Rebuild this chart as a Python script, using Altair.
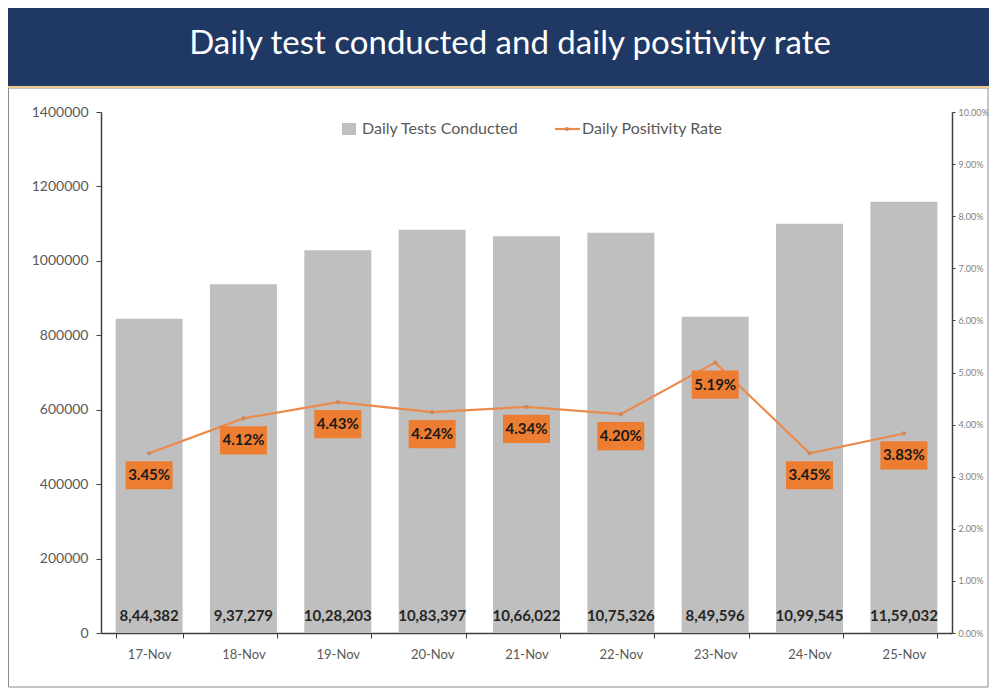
import altair as alt
import pandas as pd

dates = ["17-Nov", "18-Nov", "19-Nov", "20-Nov", "21-Nov", "22-Nov", "23-Nov", "24-Nov", "25-Nov"]
tests = [844382, 937279, 1028203, 1083397, 1066022, 1075326, 849596, 1099545, 1159032]
rates = [3.45, 4.12, 4.43, 4.24, 4.34, 4.20, 5.19, 3.45, 3.83]
y_ticks = [0, 200000, 400000, 600000, 800000, 1000000, 1200000, 1400000]
r_ticks = [0.00, 0.01, 0.02, 0.03, 0.04, 0.05, 0.06, 0.07, 0.08, 0.09, 0.10]
title_text = "Daily test conducted and daily positivity rate"
legend_names = ["Daily Tests Conducted", "Daily Positivity Rate"]


def indian(n):
    s = str(n)
    last3, rest = s[-3:], s[:-3]
    parts = []
    while len(rest) > 2:
        parts.insert(0, rest[-2:])
        rest = rest[:-2]
    if rest:
        parts.insert(0, rest)
    return ",".join(parts + [last3])


df = pd.DataFrame({
    "date": dates,
    "tests": tests,
    "rate": [r / 100 for r in rates],
    "tlabel": [indian(t) for t in tests],
    "rlabel": [f"{r:.2f}%" for r in rates],
})

W, H = 851, 521
FONT = "Lato"
GRAY = "#595959"

xenc = alt.X("date:N", sort=dates,
             scale=alt.Scale(paddingInner=0.29, paddingOuter=0.155),
             axis=alt.Axis(title=None, labelAngle=0, labelFontSize=13, labelColor=GRAY,
                           labelFont=FONT, labelPadding=10, tickBand="extent", tickSize=5,
                           tickColor="#404040", domainColor="#404040", domainWidth=1.5,
                           grid=False))

left_y = alt.Y("tests:Q", scale=alt.Scale(domain=[0, 1400000], nice=False),
               axis=alt.Axis(title=None, values=y_ticks, format="d", labelFontSize=14,
                             labelColor=GRAY, labelFont=FONT, tickSize=5, labelPadding=8,
                             tickColor="#404040", domainColor="#404040", domainWidth=1.5,
                             grid=False))

right_y = alt.Y("rate:Q", scale=alt.Scale(domain=[0, 0.10], nice=False),
                axis=alt.Axis(title=None, orient="right", values=r_ticks, format=".2%",
                              labelFontSize=9, labelColor="#7f7f7f", labelFont=FONT,
                              tickSize=3, labelPadding=3, tickColor="#404040",
                              domainColor="#404040", domainWidth=1.5, grid=False))

bars = alt.Chart().mark_bar(color="#BFBFBF")
bar_labels = alt.Chart().mark_text(font=FONT, fontSize=15, fontWeight="bold",
                                   color="#262626", dy=-17).encode(
    y=alt.datum(0), text="tlabel:N")
left = alt.layer(bars, bar_labels, data=df).encode(x=xenc, y=left_y)

line = alt.Chart().mark_line(color="#EC8A4C", strokeWidth=2.2)
pts = alt.Chart().mark_point(color="#C98A60", filled=True, size=18, opacity=1)
boxes = alt.Chart().mark_point(shape="M-1,-0.6L1,-0.6L1,0.6L-1,0.6Z", size=2209,
                               filled=True, color="#ED7D31", opacity=1, yOffset=22)
box_labels = alt.Chart().mark_text(font=FONT, fontSize=15, fontWeight="bold",
                                   color="#1a1a1a", dy=22).encode(text="rlabel:N")
right = alt.layer(line, pts, boxes, box_labels, data=df).encode(x=xenc, y=right_y)

one = alt.Data(values=[{}])
band = alt.Chart(one).mark_rect(color="#203864").encode(
    x=alt.value(-93), x2=alt.value(888), y=alt.value(-104), y2=alt.value(-26))
gold = alt.Chart(one).mark_rule(color="#E9C98F", strokeWidth=2).encode(
    x=alt.value(-93), x2=alt.value(888), y=alt.value(-25))
frame = alt.Chart(one).mark_rect(fill="transparent", stroke="#8c8c8c", strokeWidth=1).encode(
    x=alt.value(-92.5), x2=alt.value(887), y=alt.value(-24), y2=alt.value(575))
title = alt.Chart(one).mark_text(font=FONT, fontSize=33, color="white", align="center",
                                 baseline="middle").encode(
    x=alt.value(409), y=alt.value(-68), text=alt.value(title_text))

leg_sq = alt.Chart(one).mark_rect(color="#BFBFBF").encode(
    x=alt.value(241), x2=alt.value(255), y=alt.value(11), y2=alt.value(23))
leg_t1 = alt.Chart(one).mark_text(font=FONT, fontSize=16, color=GRAY, align="left",
                                  baseline="middle").encode(
    x=alt.value(261), y=alt.value(17), text=alt.value(legend_names[0]))
leg_line = alt.Chart(one).mark_rule(color="#EC8A4C", strokeWidth=2.2).encode(
    x=alt.value(454), x2=alt.value(479), y=alt.value(17))
leg_pt = alt.Chart(one).mark_point(color="#C98A60", filled=True, size=18, opacity=1).encode(
    x=alt.value(466), y=alt.value(17))
leg_t2 = alt.Chart(one).mark_text(font=FONT, fontSize=16, color=GRAY, align="left",
                                  baseline="middle").encode(
    x=alt.value(481), y=alt.value(17), text=alt.value(legend_names[1]))

chart = alt.layer(
    frame, band, gold, title, left, right, leg_sq, leg_t1, leg_line, leg_pt, leg_t2
).resolve_scale(y="independent").properties(
    width=W, height=H,
    autosize=alt.AutoSizeParams(type="none"),
    padding={"left": 93, "top": 104, "right": 37, "bottom": 55},
).configure_view(stroke=None)

chart.save("out.html", embed_options={"renderer": "svg", "actions": False})
